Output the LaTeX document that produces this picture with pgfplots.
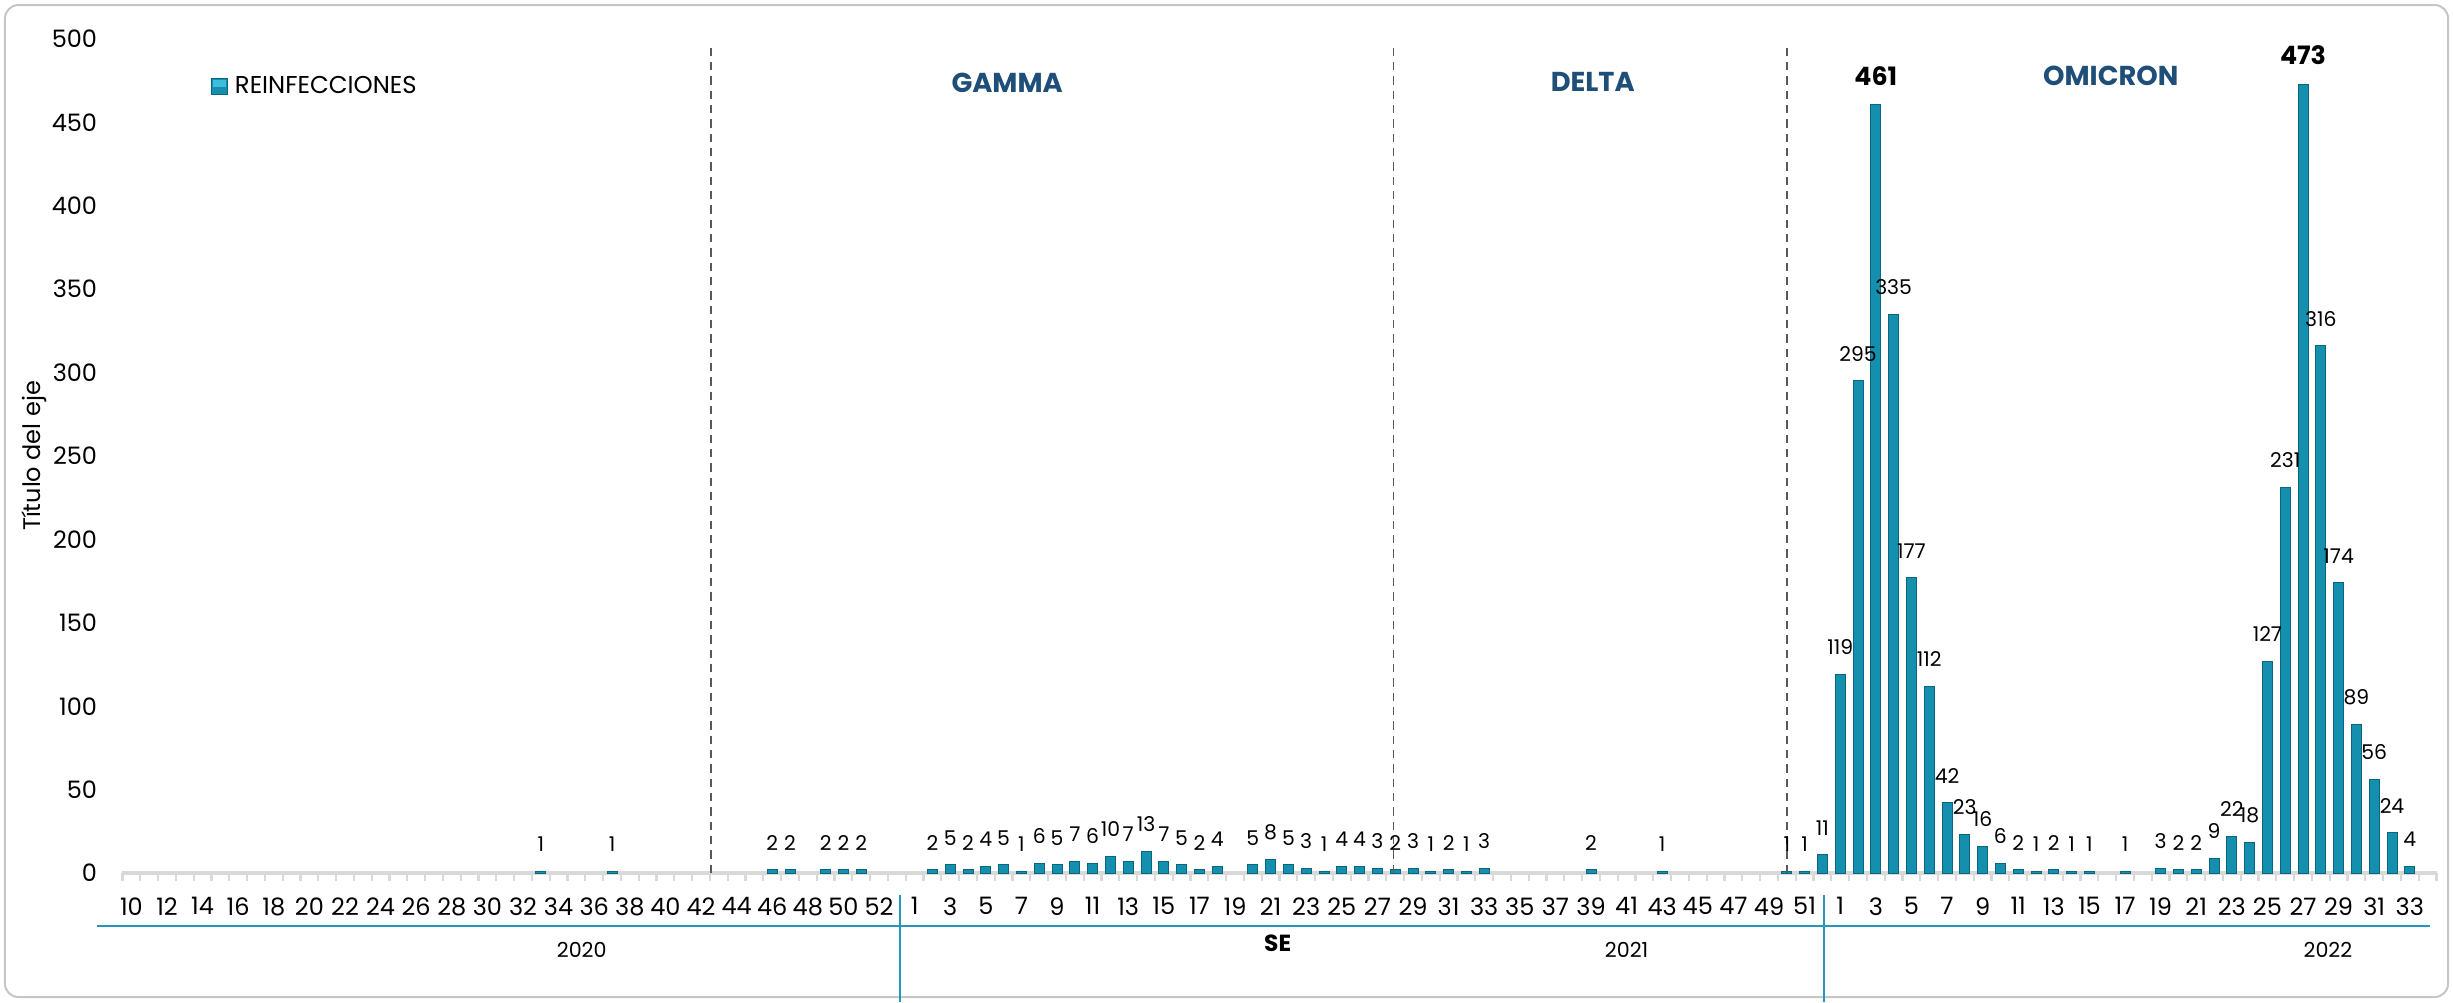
\documentclass[border=0pt]{standalone}
\usepackage{pgfplots}
\pgfplotsset{compat=1.18}
\usepackage{pgfplotstable}
\usepackage{fontspec}
\setmainfont{Poppins}
\definecolor{barFill}{RGB}{20,143,173}
\definecolor{barEdge}{RGB}{10,102,126}
\definecolor{barLight}{RGB}{60,190,220}
\definecolor{gridgray}{RGB}{217,217,217}
\definecolor{lineblue}{RGB}{40,150,185}
\definecolor{vartext}{RGB}{31,78,121}
\definecolor{dashgray}{RGB}{89,89,89}
\pgfplotsset{/pgf/number format/assume math mode=true}

% x = category index: 2020 wk w -> w-10 ; 2021 wk w -> 43+w ; 2022 wk w -> 95+w
\pgfplotstableread{
x y
23 1
27 1
36 2
37 2
39 2
40 2
41 2
45 2
46 5
47 2
48 4
49 5
50 1
51 6
52 5
53 7
54 6
55 10
56 7
57 13
58 7
59 5
60 2
61 4
63 5
64 8
65 5
66 3
67 1
68 4
69 4
70 3
71 2
72 3
73 1
74 2
75 1
76 3
82 2
86 1
93 1
94 1
95 11
96 119
97 295
99 335
100 177
101 112
102 42
103 23
104 16
105 6
106 2
107 1
108 2
109 1
110 1
112 1
114 3
115 2
116 2
117 9
118 22
119 18
120 127
121 231
123 316
124 174
125 89
126 56
127 24
128 4
}\maindata

\pgfplotstableread{
x y
98 461
122 473
}\peakdata

\begin{document}
\begin{tikzpicture}
\useasboundingbox (-36.75pt,-38.7pt) rectangle (699.15pt,261.9pt);
\draw[gray!45, line width=0.6pt, rounded corners=4pt] (-35.25pt,-37.2pt) rectangle (697.65pt,260.4pt);
\begin{axis}[
  at={(0pt,0pt)}, anchor=south west,
  scale only axis, width=694.2pt, height=250.2pt,
  xmin=-0.5, xmax=129.5, ymin=0, ymax=500,
  clip=false,
  axis x line*=bottom, axis y line*=left,
  x axis line style={draw=gridgray, line width=1.2pt},
  y axis line style={draw=none},
  ybar, bar width=3pt,
  xtick={0,2,...,128},
  xticklabels={10,12,14,16,18,20,22,24,26,28,30,32,34,36,38,40,42,44,46,48,50,52,
    1,3,5,7,9,11,13,15,17,19,21,23,25,27,29,31,33,35,37,39,41,43,45,47,49,51,
    1,3,5,7,9,11,13,15,17,19,21,23,25,27,29,31,33},
  minor xtick={-0.5,0.5,...,129.5},
  ytick={0,50,...,500},
  tick align=outside,
  major tick length=0pt, minor tick length=2.4pt,
  every minor tick/.style={draw=gridgray, line width=0.7pt},
  tick label style={font=\fontsize{7.2}{8}\selectfont, black},
  xticklabel style={yshift=-3.8pt},
  yticklabel style={xshift=-4.1pt},
  ylabel={Título del eje},
  ylabel style={at={(axis description cs:0,0.5)}, anchor=center, yshift=26.5pt, font=\fontsize{7.2}{8}\selectfont},
  legend style={draw=none, fill=none, at={(axis description cs:0.0378,0.9425)}, anchor=west,
    font=\fontsize{7.3}{8}\selectfont, inner sep=0pt, legend cell align=left},
  legend image code/.code={\fill[barFill, draw=barEdge, line width=0.3pt] (0pt,-2.4pt) rectangle (5pt,2.4pt);
     \fill[barLight] (0.8pt,0.2pt) rectangle (4.2pt,1.8pt);},
]
\addplot[bar shift=0pt, fill=barFill, draw=barEdge, line width=0.3pt,
  nodes near coords, every node near coord/.append style={font=\fontsize{6.1}{7}\selectfont, black, yshift=2.4pt}]
  table[x=x, y=y] {\maindata};
\addlegendentry{REINFECCIONES}
\addplot[forget plot, bar shift=0pt, fill=barFill, draw=barEdge, line width=0.3pt,
  nodes near coords, every node near coord/.append style={font=\bfseries\fontsize{7.6}{8}\selectfont, black, yshift=2.2pt}]
  table[x=x, y=y] {\peakdata};

% variant period dividers
\draw[dashgray, line width=0.5pt, dash pattern=on 2.5pt off 1.8pt] (axis cs:32.55,0) -- (axis cs:32.55,495);
\draw[dashgray, line width=0.5pt, dash pattern=on 2.5pt off 1.8pt] (axis cs:70.9,0) -- (axis cs:70.9,495);
\draw[dashgray, line width=0.5pt, dash pattern=on 2.5pt off 1.8pt] (axis cs:93.0,0) -- (axis cs:93.0,495);
\node[font=\bfseries\fontsize{8.2}{9}\selectfont, text=vartext] at (axis cs:49.2,474) {GAMMA};
\node[font=\bfseries\fontsize{8.2}{9}\selectfont, text=vartext] at (axis cs:82.1,474) {DELTA};
\node[font=\bfseries\fontsize{8.2}{9}\selectfont, text=vartext] at (axis cs:111.2,478) {OMICRON};

% year grouping
\draw[lineblue, line width=0.6pt] ([xshift=-7.6pt, yshift=-15.9pt]axis cs:-0.5,0) -- ([xshift=-2pt, yshift=-15.9pt]axis cs:129.5,0);
\draw[lineblue, line width=0.6pt] ([yshift=-6.6pt]axis cs:43.2,0) -- ([yshift=-38.7pt]axis cs:43.2,0);
\draw[lineblue, line width=0.6pt] ([yshift=-6.6pt]axis cs:95.1,0) -- ([yshift=-38.7pt]axis cs:95.1,0);
\node[font=\fontsize{6.2}{7}\selectfont] at ([yshift=-23pt]axis cs:25.3,0) {2020};
\node[font=\bfseries\fontsize{7}{8}\selectfont] at ([yshift=-21pt]axis cs:64.4,0) {SE};
\node[font=\fontsize{6.2}{7}\selectfont] at ([yshift=-23pt]axis cs:84.0,0) {2021};
\node[font=\fontsize{6.2}{7}\selectfont] at ([yshift=-23pt]axis cs:123.4,0) {2022};
\end{axis}
\end{tikzpicture}
\end{document}
